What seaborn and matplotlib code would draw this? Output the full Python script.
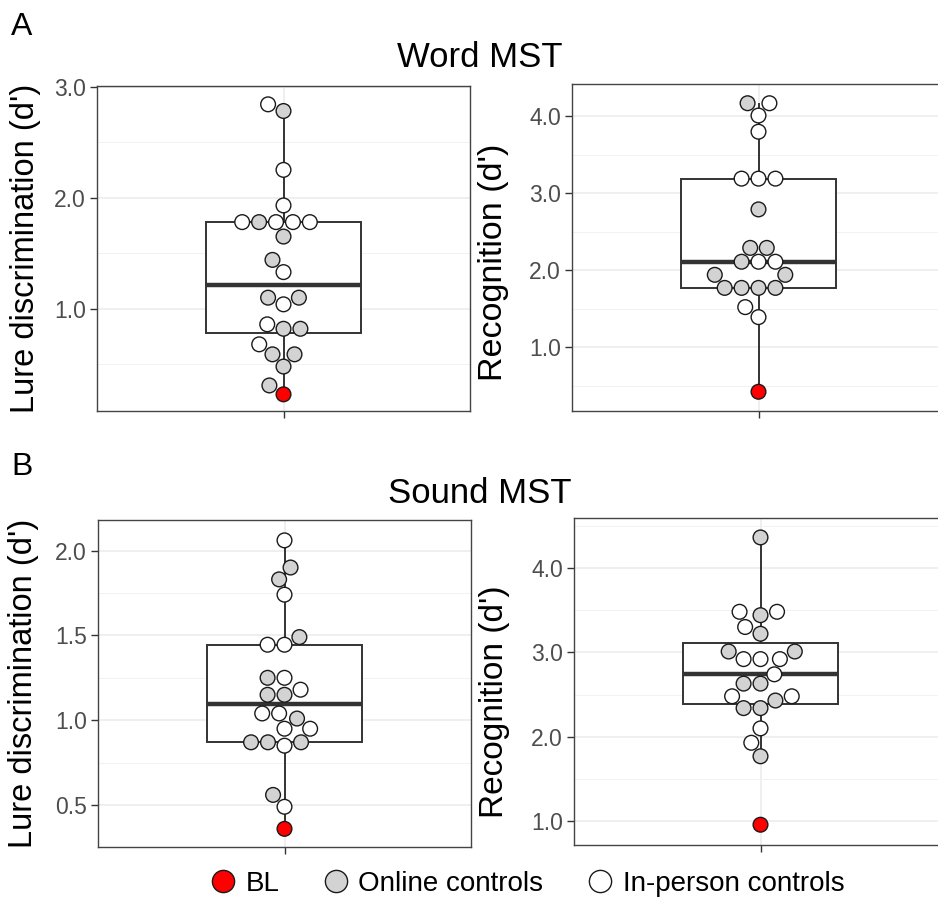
import matplotlib
matplotlib.use("Agg")
import matplotlib.pyplot as plt
from matplotlib.lines import Line2D
import seaborn as sns
import pandas as pd

# ---------------- data ----------------
group_names = ["BL", "Online controls", "In-person controls"]
group_colors = ["#ff0000", "#d3d3d3", "#ffffff"]

# Word MST - lure discrimination
word_lure_inperson = [2.84, 2.25, 1.93, 1.78, 1.78, 1.78, 1.78, 1.33, 1.04, 0.86, 0.68]
word_lure_online = [2.78, 1.78, 1.65, 1.44, 1.10, 1.10, 0.82, 0.82, 0.59, 0.59, 0.48, 0.31]
word_lure_bl = [0.23]

# Word MST - recognition
word_rec_inperson = [4.17, 4.01, 3.80, 3.19, 3.19, 3.19, 2.11, 2.11, 1.52, 1.39]
word_rec_online = [4.17, 2.79, 2.29, 2.29, 2.11, 1.94, 1.94, 1.77, 1.77, 1.77, 1.77]
word_rec_bl = [0.42]

# Sound MST - lure discrimination
sound_lure_inperson = [2.06, 1.74, 1.445, 1.445, 1.25, 1.18, 1.04, 1.04, 0.95, 0.95, 0.85, 0.49]
sound_lure_online = [1.90, 1.83, 1.49, 1.25, 1.15, 1.15, 1.01, 0.87, 0.87, 0.87, 0.56]
sound_lure_bl = [0.36]

# Sound MST - recognition
sound_rec_inperson = [3.48, 3.48, 3.30, 2.92, 2.92, 2.92, 2.74, 2.48, 2.48, 2.10, 1.93]
sound_rec_online = [4.36, 3.44, 3.22, 3.01, 3.01, 2.63, 2.63, 2.43, 2.34, 2.34, 1.77]
sound_rec_bl = [0.96]

word_lure_ticks = [1.0, 2.0, 3.0]
word_lure_ticklabels = ["1.0", "2.0", "3.0"]
word_rec_ticks = [1.0, 2.0, 3.0, 4.0]
word_rec_ticklabels = ["1.0", "2.0", "3.0", "4.0"]
sound_lure_ticks = [0.5, 1.0, 1.5, 2.0]
sound_lure_ticklabels = ["0.5", "1.0", "1.5", "2.0"]
sound_rec_ticks = [1.0, 2.0, 3.0, 4.0]
sound_rec_ticklabels = ["1.0", "2.0", "3.0", "4.0"]

lure_label = "Lure discrimination (d')"
rec_label = "Recognition (d')"

# ---------------- style ----------------
sns.set_style("white")
plt.rcParams["font.family"] = ["Liberation Sans", "DejaVu Sans"]
plt.rcParams["text.color"] = "black"
plt.rcParams["axes.labelcolor"] = "black"

W, H = 938, 899
fig = plt.figure(figsize=(W / 100, H / 100), dpi=100)
fig.patch.set_facecolor("white")


def rect(left, top, right, bottom):
    return [left / W, 1 - bottom / H, (right - left) / W, (bottom - top) / H]


palette = dict(zip(group_names, group_colors))


def make_df(inperson, online, bl):
    vals = list(inperson) + list(online) + list(bl)
    grp = (["In-person controls"] * len(inperson) + ["Online controls"] * len(online)
           + ["BL"] * len(bl))
    return pd.DataFrame({"value": vals, "group": grp})


def panel(pos, df, ylim, ticks, ticklabels, minor, ylabel, lab_size, lab_x, lab_y):
    ax = fig.add_axes(rect(*pos))
    ax.set_facecolor("white")
    sns.boxplot(data=df, y="value", ax=ax, width=0.5, color="white",
                linecolor="#333333", linewidth=1.4, showfliers=False, whis=1.8,
                medianprops=dict(linewidth=3.2, color="#333333"),
                capprops=dict(linewidth=0), zorder=2)
    sns.swarmplot(data=df, y="value", hue="group", hue_order=group_names,
                  palette=palette, ax=ax, size=10.6, edgecolor="#1a1a1a",
                  linewidth=1.0, legend=False, zorder=3)
    ax.set_xlim(-0.6, 0.6)
    ax.set_ylim(*ylim)
    ax.set_xticks([0])
    ax.set_xticklabels([""])
    ax.set_xlabel("")
    ax.set_yticks(ticks)
    ax.set_yticklabels(ticklabels)
    ax.set_yticks(minor, minor=True)
    ax.grid(True, which="major", color="#ebebeb", linewidth=1.1, zorder=0)
    ax.grid(True, which="minor", axis="y", color="#f2f2f2", linewidth=0.7, zorder=0)
    ax.set_axisbelow(True)
    ax.tick_params(axis="both", which="major", length=5, width=1.0, color="#333333",
                   labelsize=16.5, labelcolor="#4d4d4d", pad=3,
                   left=True, bottom=True)
    ax.tick_params(axis="y", which="minor", length=0)
    for s in ax.spines.values():
        s.set_visible(True)
        s.set_color("#444444")
        s.set_linewidth(1.0)
    ax.set_ylabel(ylabel, fontsize=lab_size, color="black")
    ax.yaxis.set_label_coords(lab_x, lab_y)
    return ax


panel((97, 86, 470, 411), make_df(word_lure_inperson, word_lure_online, word_lure_bl),
      (0.08, 3.005), word_lure_ticks, word_lure_ticklabels, [0.5, 1.5, 2.5],
      lure_label, 23.5, -0.150, 0.5)
panel((572, 84, 945, 411), make_df(word_rec_inperson, word_rec_online, word_rec_bl),
      (0.17, 4.42), word_rec_ticks, word_rec_ticklabels, [0.5, 1.5, 2.5, 3.5],
      rec_label, 24.5, -0.170, 0.456)
panel((98, 520, 471, 847), make_df(sound_lure_inperson, sound_lure_online, sound_lure_bl),
      (0.253, 2.18), sound_lure_ticks, sound_lure_ticklabels, [0.75, 1.25, 1.75],
      lure_label, 23.5, -0.158, 0.5)
panel((574, 518, 947, 845), make_df(sound_rec_inperson, sound_rec_online, sound_rec_bl),
      (0.72, 4.59), sound_rec_ticks, sound_rec_ticklabels, [1.5, 2.5, 3.5, 4.5],
      rec_label, 24, -0.172, 0.437)

# titles and panel letters
fig.text(480 / W, 1 - 67 / H, "Word MST", ha="center", va="baseline", fontsize=25)
fig.text(480 / W, 1 - 503 / H, "Sound MST", ha="center", va="baseline", fontsize=25)
fig.text(11 / W, 1 - 35 / H, "A", ha="left", va="baseline", fontsize=23)
fig.text(11 / W, 1 - 475 / H, "B", ha="left", va="baseline", fontsize=23)

# legend
handles = [Line2D([], [], marker="o", linestyle="", markersize=16,
                  markerfacecolor=c, markeredgecolor="#1a1a1a", markeredgewidth=1.0)
           for c in group_colors]
fig.legend(handles, group_names, loc="center", bbox_to_anchor=(526 / W, 1 - 884 / H),
           ncol=3, frameon=False, fontsize=20, handletextpad=0.25, columnspacing=1.5,
           handlelength=1.1, borderaxespad=0)

fig.savefig("out.png", dpi=100, facecolor="white")
